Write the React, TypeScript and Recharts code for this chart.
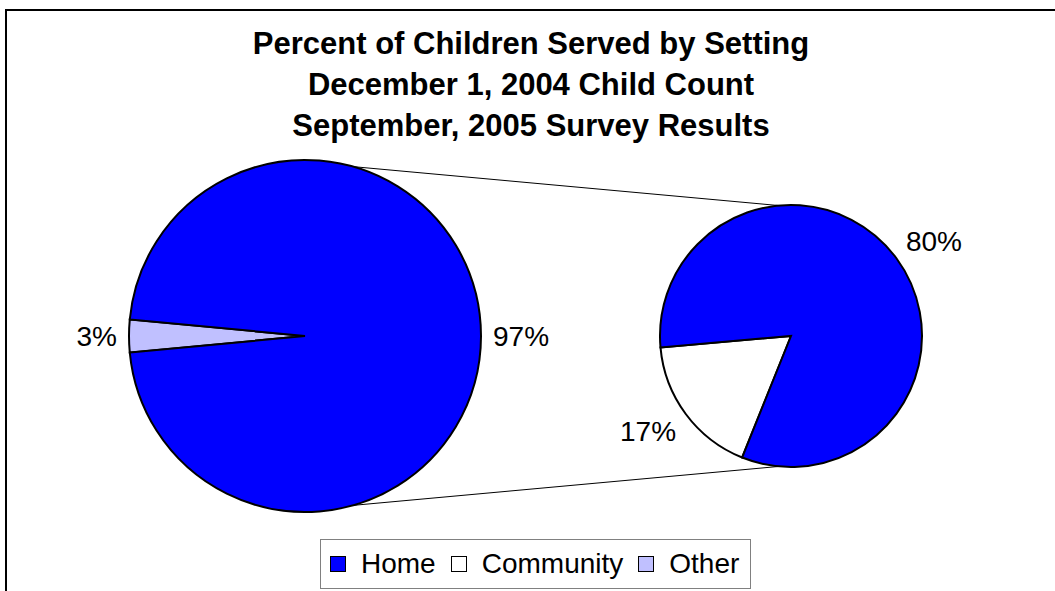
import { PieChart, Pie, Cell, Legend, Customized } from "recharts"

const titleLines = [
  "Percent of Children Served by Setting",
  "December 1, 2004 Child Count",
  "September, 2005 Survey Results",
]
const settings = ["Home", "Community", "Other"]
const percents = [80, 17, 3]
const splitOut = "Other"

const colors: Record<string, string> = {
  Home: "#0000ff",
  Community: "#ffffff",
  Other: "#c0c0ff",
}

const rows = settings.map((name, i) => ({ name, value: percents[i] }))
const otherRows = rows.filter((r) => r.name === splitOut)
const detailRows = rows.filter((r) => r.name !== splitOut)

// big pie: the broken-out settings are rolled into one slice
const mainData = [
  ...otherRows,
  { name: "Home", value: detailRows.reduce((s, r) => s + r.value, 0) },
]
// small pie: community first so it starts at the left edge
const detailData = [...detailRows].reverse()

const W = 1055
const H = 591
const FONT = "'Liberation Sans', Arial, sans-serif"

const main = { cx: 305, cy: 336, r: 176 }
const detail = { cx: 791, cy: 336, r: 131 }
const mainStart = 180 - (otherRows[0].value * 3.6) / 2
const detailStart = 185

const RAD = Math.PI / 180

function OutsideLabel(props: any) {
  const { cx, cy, midAngle, outerRadius, value } = props
  const cos = Math.cos(midAngle * RAD)
  const sin = Math.sin(midAngle * RAD)
  const x = cx + (outerRadius + 12) * cos
  const y = cy - (outerRadius + 12) * sin
  const anchor = cos > 0.1 ? "start" : cos < -0.1 ? "end" : "middle"
  const base = sin > 0.3 ? y : sin < -0.3 ? y + 20 : y + 10
  return (
    <text x={x} y={base} textAnchor={anchor} fontSize={28} fontFamily={FONT} fill="#000">
      {value}%
    </text>
  )
}

// outer tangents between the two pies
function Connectors() {
  const d = detail.cx - main.cx
  const nx = (detail.r - main.r) / d
  const ny = Math.sqrt(1 - nx * nx)
  return (
    <g>
      {[-1, 1].map((sgn) => (
        <line
          key={sgn}
          x1={main.cx + main.r * nx}
          y1={main.cy + sgn * main.r * ny}
          x2={detail.cx + detail.r * nx}
          y2={detail.cy + sgn * detail.r * ny}
          stroke="#000"
          strokeWidth={1}
        />
      ))}
    </g>
  )
}

function LegendBox() {
  return (
    <div
      style={{
        boxSizing: "border-box",
        width: 431,
        height: 50,
        border: "1px solid #808080",
        display: "flex",
        alignItems: "center",
        paddingLeft: 9,
        fontFamily: FONT,
        fontSize: 28,
        color: "#000",
        background: "#fff",
      }}
    >
      {settings.map((name) => (
        <div key={name} style={{ display: "flex", alignItems: "center", marginRight: 15 }}>
          <span
            style={{
              boxSizing: "border-box",
              width: 16,
              height: 16,
              border: "1px solid #000",
              background: colors[name],
              marginRight: 15,
            }}
          />
          <span>{name}</span>
        </div>
      ))}
    </div>
  )
}

export default function App() {
  return (
    <div
      style={{
        position: "absolute",
        left: 0,
        top: 0,
        width: W,
        height: H,
        overflow: "hidden",
        background: "#fff",
      }}
    >
      <div
        style={{
          position: "absolute",
          left: 5,
          top: 9,
          width: 1200,
          height: 800,
          borderLeft: "2px solid #000",
          borderTop: "2px solid #000",
        }}
      />
      <div
        style={{
          position: "absolute",
          left: 0,
          top: 23,
          width: 1062,
          textAlign: "center",
          fontFamily: FONT,
          fontWeight: "bold",
          fontSize: 31,
          lineHeight: "41px",
          color: "#000",
        }}
      >
        {titleLines.map((t) => (
          <div key={t}>{t}</div>
        ))}
      </div>
      <div style={{ position: "absolute", left: 0, top: 0 }}>
        <PieChart width={W} height={H} margin={{ top: 0, right: 0, bottom: 0, left: 0 }}>
          <Customized component={Connectors} />
          <Pie
            data={mainData}
            dataKey="value"
            nameKey="name"
            cx={main.cx}
            cy={main.cy}
            outerRadius={main.r}
            startAngle={mainStart}
            endAngle={mainStart + 360}
            stroke="#000"
            strokeWidth={2}
            label={OutsideLabel}
            labelLine={false}
            isAnimationActive={false}
          >
            {mainData.map((r) => (
              <Cell key={r.name} fill={colors[r.name]} />
            ))}
          </Pie>
          <Pie
            data={detailData}
            dataKey="value"
            nameKey="name"
            cx={detail.cx}
            cy={detail.cy}
            outerRadius={detail.r}
            startAngle={detailStart}
            endAngle={detailStart + 360}
            stroke="#000"
            strokeWidth={2}
            label={OutsideLabel}
            labelLine={false}
            isAnimationActive={false}
          >
            {detailData.map((r) => (
              <Cell key={r.name} fill={colors[r.name]} />
            ))}
          </Pie>
          <Legend
            content={LegendBox}
            wrapperStyle={{ left: 320, top: 539, width: 431, height: 50, bottom: "auto" }}
          />
        </PieChart>
      </div>
    </div>
  )
}
